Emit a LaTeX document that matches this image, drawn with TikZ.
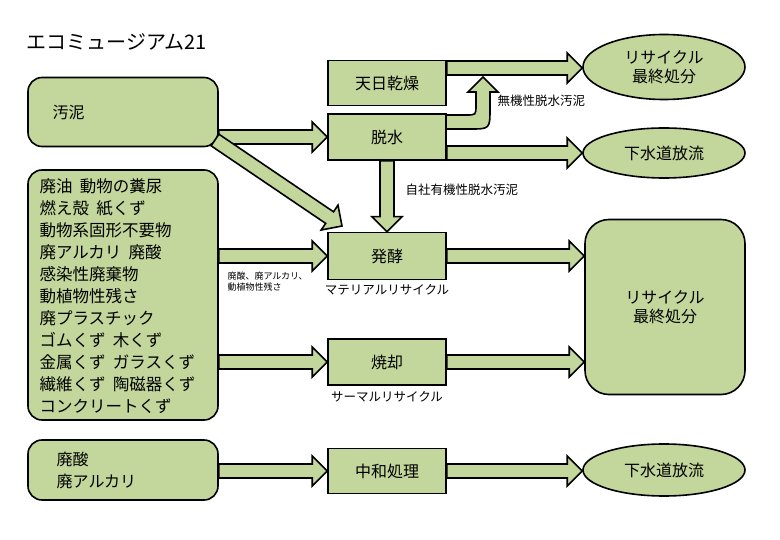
\documentclass[tikz,border=0pt]{standalone}
\usepackage{fontspec}
\setmainfont{Noto Sans CJK JP}
\usetikzlibrary{calc,shapes.geometric}
\definecolor{boxgreen}{HTML}{C3D69B}
\tikzset{
  box/.style={draw, line width=1.6pt, fill=boxgreen, minimum width=118pt, minimum height=45pt, font=\fontsize{16}{19}\selectfont},
  src/.style={draw, line width=1.6pt, fill=boxgreen, rounded corners=14pt, minimum width=190pt, font=\fontsize{16}{19}\selectfont},
  goal/.style={draw, line width=1.6pt, fill=boxgreen, ellipse, minimum width=162pt, font=\fontsize{16}{19}\selectfont, align=center},
  flow/.style={draw, line width=1.6pt, fill=boxgreen, line join=miter},
  note/.style={font=\fontsize{12.5}{14}\selectfont}
}
% block arrow from #1 to #2
\newcommand\barrow[2]{%
  \draw[flow] let \p1=(#1), \p2=(#2), \n1={atan2(\y2-\y1,\x2-\x1)} in
    ($(\p1)+(\n1+90:7pt)$) -- ($(\p2)+(\n1+180:15pt)+(\n1+90:7pt)$)
    -- ($(\p2)+(\n1+180:15pt)+(\n1+90:15pt)$) -- (\p2)
    -- ($(\p2)+(\n1+180:15pt)+(\n1-90:15pt)$) -- ($(\p2)+(\n1+180:15pt)+(\n1-90:7pt)$)
    -- ($(\p1)+(\n1-90:7pt)$) -- cycle;}
\begin{document}
\begin{tikzpicture}[x=1pt,y=-1pt]
  \useasboundingbox (0,0) rectangle (780,540);
  \node[anchor=west, font=\fontsize{20}{22}\selectfont] (title) at (23,42) {エコミュージアム21};
  % sources
  \node[src, minimum height=69pt] (sludge) at (123,112) {};
  \node[anchor=west, font=\fontsize{16}{19}\selectfont] at (sludge.west) [xshift=22pt] {汚泥};
  \node[src, minimum height=250pt] (waste) at (123,295) {};
  \node[anchor=north west, align=left, font=\fontsize{16.5}{22}\selectfont] (wlist) at (36,175)
    {廃油\ \ 動物の糞尿\\燃え殻\ \ 紙くず\\動物系固形不要物\\廃アルカリ\ \ 廃酸\\感染性廃棄物\\動植物性残さ\\廃プラスチック\\ゴムくず\ \ 木くず\\金属くず\ \ ガラスくず\\繊維くず\ \ 陶磁器くず\\コンクリートくず};
  \node[src, minimum height=60pt] (acid) at (123,470) {};
  \node[anchor=west, align=left, font=\fontsize{16}{22}\selectfont] at (acid.west) [xshift=26pt] {廃酸\\廃アルカリ};
  % processes
  \node[box] (sun) at (387,83) {天日乾燥};
  \node[box, minimum height=46pt] (dehyd) at (387,137) {脱水};
  \node[box, minimum height=47pt] (ferm) at (387,256) {発酵};
  \node[box, minimum height=46pt] (burn) at (387,362) {焼却};
  \node[box] (neut) at (387,471) {中和処理};
  \node[note, below=1pt] (mat) at (ferm.south) {マテリアルリサイクル};
  \node[note, below=2pt] (therm) at (burn.south) {サーマルリサイクル};
  % destinations
  \node[goal, minimum height=65pt] (fin1) at (664,67) {リサイクル\\最終処分};
  \node[goal, minimum height=50pt] (sew1) at (664,153) {下水道放流};
  \node[draw, line width=1.6pt, fill=boxgreen, rounded corners=24pt, minimum width=160pt, minimum height=175pt, align=center, font=\fontsize{16}{19}\selectfont] (fin2) at (665,307) {リサイクル\\最終処分};
  \node[goal, minimum height=52pt] (sew2) at (664,470) {下水道放流};
  % connectors
  \coordinate (d1) at (sludge.east |- dehyd.west);
  \coordinate (d2) at (215,140);
  \coordinate (d3) at (342,226);
  \coordinate (w1) at (waste.east |- ferm.west);
  \coordinate (w2) at (waste.east |- burn.west);
  \coordinate (a1) at (acid.east |- neut.west);
  \coordinate (s1) at (sun.east |- 0,68);
  \coordinate (s2) at (fin1.west |- 0,68);
  \coordinate (t1) at (dehyd.east |- 0,153);
  \coordinate (t2) at (sew1.west |- 0,153);
  \coordinate (f1) at (ferm.east);
  \coordinate (f2) at (fin2.west |- ferm.east);
  \coordinate (b1) at (burn.east);
  \coordinate (b2) at (fin2.west |- burn.east);
  \coordinate (n1) at (neut.east);
  \coordinate (n2) at (sew2.west |- neut.east);
  \barrow{d1}{dehyd.west}
  \barrow{d2}{d3}
  \barrow{w1}{ferm.west}
  \barrow{w2}{burn.west}
  \barrow{a1}{neut.west}
  \barrow{s1}{s2}
  \barrow{t1}{t2}
  \barrow{dehyd.south}{ferm.north}
  \barrow{f1}{f2}
  \barrow{b1}{b2}
  \barrow{n1}{n2}
  \draw[flow] (446,115) -- (466,115) .. controls (476,115) .. (476,105) -- (476,92) -- (468,92)
    -- (483,77) -- (498,92) -- (490,92) -- (490,108) .. controls (490,129) .. (470,129) -- (446,129) -- cycle;
  \node[note, anchor=west] (inorg) at (494,101) {無機性脱水汚泥};
  \node[note, anchor=west] (org) at (402,190) {自社有機性脱水汚泥};
  \node[anchor=north west, align=left, font=\fontsize{9}{11}\selectfont] (mix) at (224,268) {廃酸、廃アルカリ、\\動植物性残さ};
\end{tikzpicture}
\end{document}
